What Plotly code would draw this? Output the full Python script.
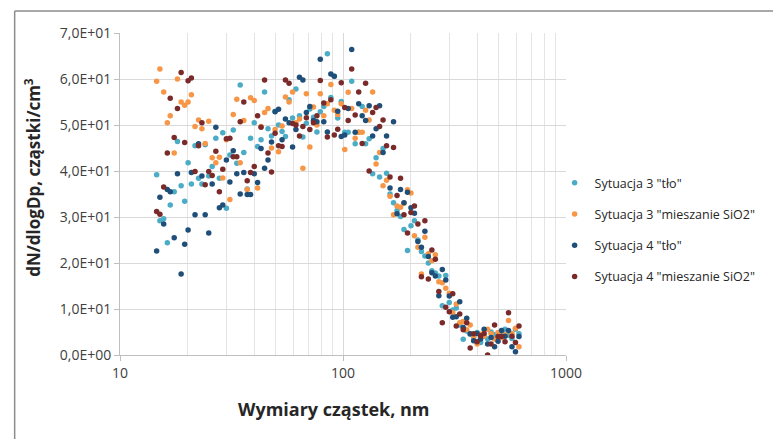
import plotly.graph_objects as go

diam_nm = [
    14.6, 15.1, 15.7, 16.3, 16.8, 17.5, 18.1, 18.8, 19.5, 20.2,
    20.9, 21.7, 22.5, 23.3, 24.1, 25.0, 25.9, 26.9, 27.9, 28.9,
    30.0, 31.1, 32.2, 33.4, 34.6, 35.9, 37.2, 38.5, 40.0, 41.4,
    42.9, 44.5, 46.1, 47.8, 49.6, 51.4, 53.3, 55.2, 57.3, 59.4,
    61.5, 63.8, 66.1, 68.5, 71.0, 73.7, 76.4, 79.1, 82.0, 85.1,
    88.2, 91.4, 94.7, 98.2, 101.8, 105.5, 109.4, 113.4, 117.6, 121.9,
    126.3, 131.0, 135.8, 140.7, 145.9, 151.2, 156.8, 162.5, 168.5, 174.7,
    181.1, 187.7, 194.6, 201.7, 209.1, 216.7, 224.7, 232.9, 241.4, 250.3,
    259.5, 269.0, 278.8, 289.0, 299.6, 310.6, 322.0, 333.8, 346.0, 358.7,
    371.8, 385.4, 399.5, 414.2, 429.4, 445.1, 461.4, 478.3, 495.8, 514.0,
    532.8, 552.3, 572.5, 593.5, 615.3,
]

s3_tlo = [
    39.2, 29.2, 29.6, 24.4, 32.6, 35.5, 46.4, 36.8, 33.4, 41.8,
    37.2, 45.5, 38.4, 37.2, 45.7, 38.9, 41.0, 47.1, 38.4, 48.3,
    31.9, 43.5, 48.9, 41.7, 58.7, 44.0, 36.1, 47.1, 50.5, 45.3,
    46.8, 57.2, 49.2, 47.6, 53.0, 50.0, 48.6, 47.5, 55.5, 51.5,
    57.8, 52.0, 47.4, 50.4, 53.5, 51.7, 48.5, 52.9, 54.0, 65.5,
    56.0, 60.6, 51.5, 55.1, 48.4, 48.4, 59.5, 45.9, 48.4, 54.0,
    45.9, 47.0, 39.4, 42.9, 38.7, 44.9, 39.5, 35.0, 33.1, 31.4,
    30.1, 27.3, 22.7, 28.1, 29.2, 25.0, 22.5, 21.5, 20.0, 18.3,
    17.8, 17.2, 10.7, 17.3, 11.4, 9.8, 10.2, 6.5, 3.4, 5.2,
    4.5, 3.8, 4.9, 2.7, 4.2, 3.5, 5.0, 4.4, 3.9, 4.8,
    5.6, 4.3, 3.6, 5.6, 4.6,
]

s3_mix = [
    59.5, 62.2, 57.2, 50.5, 52.0, 43.9, 60.0, 55.0, 54.3, 55.0,
    56.6, 49.7, 51.1, 49.2, 46.0, 50.8, 42.9, 41.8, 43.0, 38.5,
    46.8, 33.8, 52.3, 55.6, 41.8, 51.0, 36.0, 55.9, 55.3, 36.3,
    49.7, 52.7, 53.6, 45.0, 49.0, 44.2, 49.8, 56.1, 55.0, 57.2,
    50.5, 51.3, 40.6, 56.8, 45.2, 53.9, 50.0, 56.8, 52.0, 54.6,
    58.8, 53.2, 52.3, 54.6, 44.7, 57.1, 53.6, 47.1, 48.4, 48.4,
    53.2, 51.1, 57.2, 41.5, 44.0, 36.8, 38.0, 34.5, 30.5, 32.4,
    32.1, 33.0, 35.9, 35.2, 25.9, 23.4, 17.6, 25.6, 22.0, 20.5,
    21.8, 15.9, 15.7, 14.5, 13.4, 9.2, 11.1, 7.0, 7.3, 5.5,
    6.5, 4.0, 2.4, 4.5, 4.1, 5.6, 4.6, 3.5, 4.9, 3.8,
    4.4, 7.5, 4.7, 5.8, 1.8,
]

s4_tlo = [
    22.6, 34.3, 28.5, 36.0, 35.5, 25.5, 39.4, 17.6, 24.1, 27.2,
    39.7, 30.5, 45.9, 38.9, 30.5, 26.5, 37.2, 49.5, 32.0, 32.6,
    42.4, 37.6, 44.4, 39.4, 35.0, 39.7, 34.9, 34.9, 39.4, 37.5,
    44.9, 40.6, 42.4, 46.3, 52.9, 53.4, 46.8, 51.3, 50.5, 45.2,
    49.0, 60.4, 59.8, 52.7, 54.0, 51.0, 50.7, 64.3, 50.7, 48.5,
    61.1, 60.6, 53.0, 47.5, 47.8, 53.6, 66.4, 48.4, 54.6, 52.0,
    51.0, 54.2, 47.6, 49.2, 54.2, 44.0, 47.6, 36.3, 50.7, 30.7,
    36.0, 33.1, 35.4, 32.0, 30.8, 24.7, 23.4, 26.9, 21.4, 17.9,
    17.2, 12.9, 18.6, 16.3, 12.8, 8.2, 8.3, 11.6, 6.0, 8.0,
    4.6, 3.1, 4.7, 3.5, 5.6, 2.4, 3.8, 1.8, 3.0, 5.3,
    4.1, 5.3, 1.8, 0.7, 4.0,
]

s4_mix = [
    31.2, 30.6, 36.5, 43.9, 55.8, 47.3, 53.6, 61.4, 46.2, 59.6,
    60.2, 39.9, 45.5, 50.5, 37.0, 39.9, 39.0, 44.3, 35.5, 40.4,
    47.0, 47.1, 43.1, 43.1, 50.7, 55.0, 37.9, 39.7, 41.0, 52.0,
    49.5, 59.8, 43.9, 39.8, 48.2, 45.5, 45.3, 59.8, 59.1, 50.3,
    50.0, 47.6, 49.7, 51.6, 49.0, 50.5, 52.0, 59.7, 54.8, 47.4,
    55.5, 47.8, 49.1, 59.2, 53.8, 51.0, 62.2, 52.2, 57.2, 46.0,
    59.1, 40.0, 52.7, 53.8, 49.7, 51.1, 45.5, 38.7, 45.1, 34.7,
    38.4, 30.5, 26.5, 31.0, 32.4, 28.5, 17.0, 29.2, 16.5, 22.8,
    20.8, 13.8, 7.0, 10.4, 9.4, 13.3, 6.3, 8.9, 5.5, 7.0,
    1.5, 4.6, 2.9, 4.2, 4.7, 0.0, 2.4, 6.5, 4.0, 4.0,
    2.9, 9.2, 4.1, 2.7, 6.3,
]

series_names = [
    'Sytuacja 3 "tło"',
    'Sytuacja 3 "mieszanie SiO2"',
    'Sytuacja 4 "tło"',
    'Sytuacja 4 "mieszanie SiO2"',
]
series_values = [s3_tlo, s3_mix, s4_tlo, s4_mix]
series_colors = ["#4bacc6", "#f79646", "#1f4e79", "#7b2a2a"]

y_tickvals = [0, 10, 20, 30, 40, 50, 60, 70]
y_ticktext = ["0,0E+00", "1,0E+01", "2,0E+01", "3,0E+01", "4,0E+01",
              "5,0E+01", "6,0E+01", "7,0E+01"]
x_tickvals = [10, 100, 1000]
x_ticktext = ["10", "100", "1000"]
x_minor = [20, 30, 40, 50, 60, 70, 80, 90, 200, 300, 400, 500, 600, 700, 800, 900]

FONT = "Open Sans, Noto Sans, sans-serif"

# plot area in pixels
L, R, T, B = 120, 183, 33, 84
W, H = 773, 439
PW = W - L - R
PH = H - T - B


def px_x(p):
    return (p - L) / PW


def px_y(p):
    return (H - B - p) / PH


fig = go.Figure()
for i, (name, vals, col) in enumerate(zip(series_names, series_values, series_colors)):
    fig.add_trace(go.Scatter(
        x=diam_nm, y=vals, mode="markers", name=name,
        legendgroup=f"g{i}",
        marker=dict(color=col, size=5.5, line=dict(width=0)),
    ))

fig.update_layout(
    width=W, height=H,
    margin=dict(l=L, r=R, t=T, b=B),
    paper_bgcolor="white", plot_bgcolor="white",
    font=dict(family=FONT, color="#404040", size=14),
    showlegend=True,
    legend=dict(
        x=px_x(578), y=px_y(168), xanchor="left", yanchor="top",
        font=dict(family=FONT, size=12.5, color="#262626"),
        tracegroupgap=12, itemwidth=30,
        bgcolor="rgba(0,0,0,0)",
    ),
    xaxis=dict(
        type="log", range=[1, 3],
        tickvals=x_tickvals, ticktext=x_ticktext,
        showgrid=True, gridcolor="#d9d9d9", gridwidth=1,
        minor=dict(tickvals=x_minor, showgrid=True, gridcolor="#e4e4e4", gridwidth=1, ticks=""),
        showline=True, linecolor="#bfbfbf", linewidth=1,
        ticks="outside", ticklen=5, tickcolor="#bfbfbf",
        tickfont=dict(family=FONT, size=14, color="#404040"),
        zeroline=False,
    ),
    yaxis=dict(
        range=[0, 70],
        tickvals=y_tickvals, ticktext=y_ticktext,
        showgrid=True, gridcolor="#d9d9d9", gridwidth=1,
        showline=True, linecolor="#bfbfbf", linewidth=1,
        ticks="outside", ticklen=5, tickcolor="#bfbfbf",
        tickfont=dict(family=FONT, size=14, color="#404040"),
        zeroline=False,
    ),
    annotations=[
        dict(text="<b>dN/dlogDp, cząstki/cm<sup>3</sup></b>", xref="paper", yref="paper",
             x=px_x(27), y=px_y(177), textangle=-90, showarrow=False,
             xanchor="center", yanchor="middle",
             font=dict(family=FONT, size=17, color="#262626")),
        dict(text="<b>Wymiary cząstek, nm</b>", xref="paper", yref="paper",
             x=px_x(345), y=px_y(409), showarrow=False,
             xanchor="center", yanchor="middle",
             font=dict(family=FONT, size=18, color="#262626")),
    ],
    shapes=[
        dict(type="line", xref="paper", yref="paper",
             x0=px_x(9), y0=px_y(11), x1=px_x(1200), y1=px_y(11),
             line=dict(color="#8c8c8c", width=1.5), layer="below"),
        dict(type="line", xref="paper", yref="paper",
             x0=px_x(9), y0=px_y(11), x1=px_x(9), y1=px_y(900),
             line=dict(color="#8c8c8c", width=1.5), layer="below"),
    ],
)

fig.write_html("out.html")
